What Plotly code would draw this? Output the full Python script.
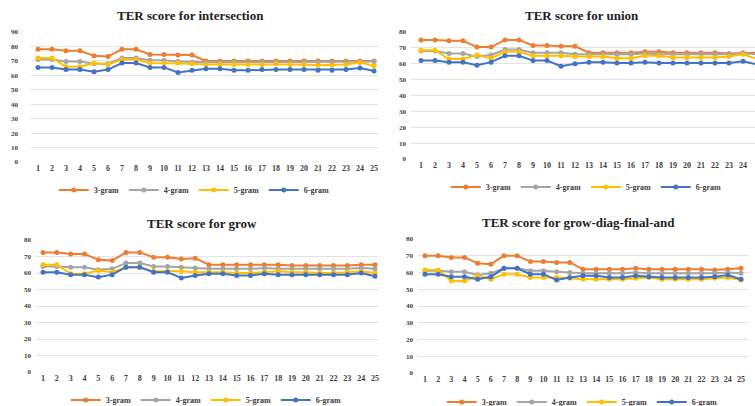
import plotly.graph_objects as go

W, H = 755, 406
x_idx = list(range(1, 26))
x_labels = [str(i) for i in x_idx]
series_names = ["3-gram", "4-gram", "5-gram", "6-gram"]
colors = ["#ED7D31", "#A5A5A5", "#FFC000", "#4472C4"]

titles = ["TER score for intersection", "TER score for union",
          "TER score for grow", "TER score for grow-diag-final-and"]

# intersection
inter_3 = [78, 78, 77, 77, 73.5, 73, 78, 78, 74.5, 74.5, 74, 74, 70, 70, 70, 70, 70, 70, 70, 70, 70, 70, 70, 70, 70]
inter_4 = [71, 71, 69.5, 69.5, 68, 68, 72, 72, 70.5, 70.5, 69.5, 69, 69, 69, 69, 69, 69.5, 69, 69, 69, 69, 69, 69, 69, 69.5]
inter_5 = [72, 72, 66, 66, 68.5, 67.5, 71, 71, 68.5, 68.5, 68.5, 68, 67.5, 67.5, 67.5, 67.5, 67.5, 68, 67.5, 67.5, 67, 67, 67.5, 69, 66.5]
inter_6 = [65.5, 65.5, 64, 64, 62.5, 64, 68.5, 68.5, 65.5, 65.5, 62, 63.5, 64.5, 64.5, 63.5, 63.5, 64, 64, 64, 64, 63.5, 63.5, 64, 65, 63]
# union
union_3 = [75, 75, 74.5, 74.5, 70.5, 70.5, 75, 75, 71.5, 71.5, 71, 71, 67, 67, 67, 67, 67.5, 67.5, 67, 67, 67, 67, 66.5, 67, 67]
union_4 = [68, 68, 66.5, 66.5, 64.5, 65.5, 69, 69, 67, 67, 67, 66, 66, 66, 66, 66, 66.5, 66, 66, 66, 66, 66, 66, 66.5, 66]
union_5 = [68.5, 68.5, 63, 63, 65.5, 63.5, 67.5, 67.5, 65, 65, 65, 64.5, 64.5, 64.5, 63.5, 63.5, 65, 65, 64, 64, 64, 64, 64.5, 66, 63]
union_6 = [62, 62, 61, 61, 59, 61, 65, 65, 62, 62, 58.5, 60, 61, 61, 60.5, 60.5, 61, 60.5, 60.5, 60.5, 60.5, 60.5, 60.5, 61.5, 59.5]
# grow
grow_3 = [72.5, 72.5, 71.5, 71.5, 68, 67.5, 72.5, 72.5, 69.5, 69.5, 68.5, 69, 65, 65, 65, 65, 65, 65, 64.5, 64.5, 64.5, 64.5, 64.5, 65, 65]
grow_4 = [64, 64, 63.5, 63.5, 62, 62.5, 66, 66, 64, 64, 63.5, 63, 62.5, 62.5, 62.5, 62.5, 63, 62.5, 62.5, 62.5, 62.5, 62.5, 62.5, 63, 62.5]
grow_5 = [65, 65, 59.5, 59.5, 61.5, 60.5, 63.5, 63.5, 61, 61, 61, 60.5, 60.5, 60.5, 60, 60, 60.5, 61, 60.5, 60.5, 60, 60, 60.5, 61, 60]
grow_6 = [60.5, 60.5, 59, 59, 57.5, 59, 63.5, 63.5, 60.5, 60.5, 57, 58.5, 59.5, 59.5, 58.5, 58.5, 59.5, 59, 59, 59, 59, 59, 59, 60, 58]
# grow-diag-final-and
gdfa_3 = [70, 70, 69, 69, 65.5, 65, 70, 70, 66.5, 66.5, 66, 66, 62, 62, 62, 62, 62.5, 62, 62, 62, 62, 62, 61.5, 62, 62.5]
gdfa_4 = [61, 61, 60.5, 60.5, 58.5, 59.5, 62.5, 62.5, 61, 61, 60.5, 60, 59.5, 59.5, 59.5, 59.5, 60, 59.5, 59.5, 59.5, 59.5, 59.5, 59.5, 60, 59.5]
gdfa_5 = [61.5, 61.5, 55, 55, 58, 56, 59, 59, 57, 57, 57, 56.5, 56, 56, 56, 56, 56.5, 57, 56, 56, 56, 56, 56.5, 57, 55.5]
gdfa_6 = [59, 59, 57.5, 57.5, 56, 57.5, 62.5, 62.5, 59, 59, 55.5, 57, 58, 58, 57, 57, 58, 57.5, 57, 57, 57, 57, 57.5, 58.5, 56]

panels_data = [
    [inter_3, inter_4, inter_5, inter_6],
    [union_3, union_4, union_5, union_6],
    [grow_3, grow_4, grow_5, grow_6],
    [gdfa_3, gdfa_4, gdfa_5, gdfa_6],
]
y_max = [90, 80, 80, 80]

# pixel geometry: (grid left, grid right, tick1 px, tick25 px, y0 px, ytop px, title y, title x, legend y, label standoff)
geom = [
    (31, 378, 38, 374, 162, 32, 15, 190, 188, 12),
    (411, 755, 421, 757, 159, 32, 15, 582, 185, 4),
    (36, 378, 43, 375, 372, 240, 223, 202, 398, 4),
    (418, 748, 425, 741, 373, 239, 222, 578, 400, 4),
]

serif = "Liberation Serif"
fig = go.Figure()
layout = dict(width=W, height=H, margin=dict(l=0, r=0, t=0, b=0, autoexpand=False),
              paper_bgcolor="white", plot_bgcolor="white", showlegend=True)
annotations = []
for p in range(4):
    gl, gr, t1, t25, y0, yt, ty, tx, ly, so = geom[p]
    ppu = (t25 - t1) / 24
    r0 = 1 - (t1 - gl) / ppu
    r1 = 25 + (gr - t25) / ppu
    xa = "xaxis" if p == 0 else f"xaxis{p+1}"
    ya = "yaxis" if p == 0 else f"yaxis{p+1}"
    xref = "x" if p == 0 else f"x{p+1}"
    yref = "y" if p == 0 else f"y{p+1}"
    lg = "legend" if p == 0 else f"legend{p+1}"
    yvals = list(range(0, y_max[p] + 1, 10))
    layout[xa] = dict(domain=[gl / W, min(gr / W, 1)], range=[r0, r1], anchor=yref,
                      tickmode="array", tickvals=x_idx, ticktext=["<b>" + t + "</b>" for t in x_labels],
                      showgrid=False, zeroline=False, showline=False, ticks="", automargin=False,
                      ticklabeloverflow="allow",
                      tickfont=dict(family=serif, size=8, color="#404040"))
    layout[ya] = dict(domain=[1 - y0 / H, 1 - yt / H], range=[0, y_max[p]], anchor=xref,
                      tickmode="array", tickvals=yvals, ticktext=["<b>%d</b>" % v for v in yvals],
                      showgrid=True, gridcolor="#E3E3E3", gridwidth=1, automargin=False,
                      zeroline=False, showline=False, ticks="", ticklabelstandoff=so,
                      tickfont=dict(family=serif, size=7, color="#404040"))
    layout[lg] = dict(orientation="h", x=tx / W + 0.005, y=1 - (ly + 2) / H, xanchor="center", yanchor="middle",
                      font=dict(family=serif, size=8, color="#404040"), bgcolor="rgba(0,0,0,0)",
                      itemwidth=30, entrywidth=25, entrywidthmode="pixels", tracegroupgap=0)
    annotations.append(dict(text="<b>" + titles[p] + "</b>", x=tx / W, y=1 - ty / H,
                            xref="paper", yref="paper", showarrow=False,
                            font=dict(family=serif, size=13, color="#222222"),
                            xanchor="center", yanchor="middle"))
    for s in range(4):
        fig.add_trace(go.Scatter(x=x_idx, y=panels_data[p][s], name="<b>" + series_names[s] + "</b>",
                                 mode="lines+markers", xaxis=xref, yaxis=yref, legend=lg,
                                 line=dict(color=colors[s], width=2),
                                 marker=dict(color=colors[s], size=5),
                                 cliponaxis=False))
layout["annotations"] = annotations
fig.update_layout(**layout)
fig.write_html("out.html", config={"displayModeBar": False},
               post_script="document.body.style.margin='0';document.body.style.overflow='hidden';")
